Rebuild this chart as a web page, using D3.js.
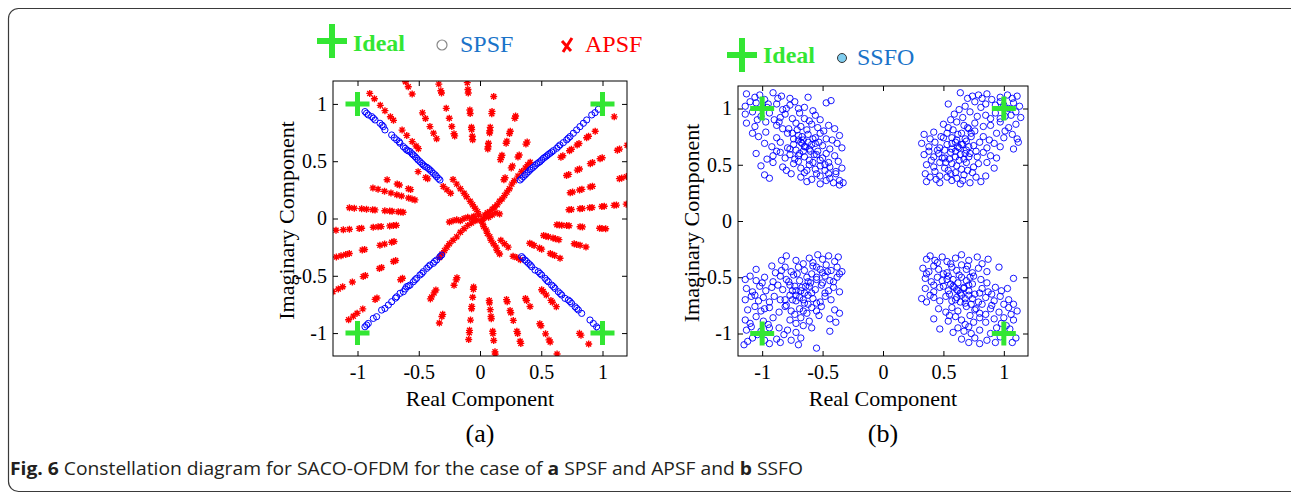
<!DOCTYPE html>
<html><head><meta charset="utf-8">
<script src="https://cdn.jsdelivr.net/npm/d3@7"></script>
<style>body{margin:0;background:#fff}svg{display:block}</style>
</head><body>
<svg id="c" width="1291" height="494"></svg>
<script>
// ---------- data ----------
const axisDomain = [-1.2, 1.2];
const tickValues = [-1, -0.5, 0, 0.5, 1];
const tickLabels = ["-1", "-0.5", "0", "0.5", "1"];
const idealPoints = [[-1, 1], [1, 1], [-1, -1], [1, -1]];

// SPSF (panel a) – four arms
const spsfUL = [[-0.939,0.933],[-0.926,0.918],[-0.912,0.904],[-0.884,0.889],[-0.870,0.875],[-0.857,0.860],[-0.816,0.831],[-0.800,0.815],[-0.789,0.802],[-0.776,0.773],[-0.721,0.729],[-0.700,0.705],[-0.680,0.686],[-0.660,0.670],[-0.653,0.657],[-0.626,0.627],[-0.610,0.612],[-0.598,0.598],[-0.585,0.590],[-0.571,0.584],[-0.555,0.565],[-0.544,0.554],[-0.530,0.540],[-0.517,0.525],[-0.505,0.510],[-0.490,0.496],[-0.475,0.480],[-0.463,0.467],[-0.450,0.455],[-0.435,0.447],[-0.420,0.435],[-0.408,0.423],[-0.395,0.410],[-0.381,0.394],[-0.365,0.380],[-0.354,0.365],[-0.340,0.350],[-0.327,0.336]];
const spsfUR = [[0.327,0.336],[0.340,0.350],[0.354,0.365],[0.368,0.380],[0.381,0.394],[0.395,0.408],[0.408,0.423],[0.420,0.435],[0.435,0.447],[0.450,0.462],[0.463,0.476],[0.476,0.486],[0.490,0.496],[0.503,0.510],[0.517,0.525],[0.530,0.535],[0.544,0.546],[0.557,0.558],[0.571,0.569],[0.585,0.580],[0.599,0.592],[0.626,0.613],[0.640,0.628],[0.653,0.642],[0.680,0.662],[0.707,0.686],[0.720,0.700],[0.735,0.715],[0.762,0.744],[0.789,0.773],[0.816,0.802],[0.844,0.831],[0.871,0.860],[0.912,0.904],[0.939,0.924],[0.966,0.953]];
const spsfLL = [[-0.939,-0.945],[-0.925,-0.930],[-0.912,-0.916],[-0.871,-0.872],[-0.844,-0.857],[-0.803,-0.799],[-0.776,-0.785],[-0.748,-0.755],[-0.721,-0.726],[-0.690,-0.695],[-0.680,-0.683],[-0.653,-0.653],[-0.626,-0.639],[-0.610,-0.615],[-0.599,-0.595],[-0.585,-0.590],[-0.571,-0.581],[-0.544,-0.552],[-0.530,-0.535],[-0.517,-0.522],[-0.490,-0.493],[-0.475,-0.480],[-0.463,-0.464],[-0.435,-0.435],[-0.420,-0.420],[-0.408,-0.406],[-0.381,-0.391],[-0.370,-0.375],[-0.354,-0.362],[-0.327,-0.333],[-0.313,-0.319]];
const spsfLR = [[0.340,-0.333],[0.350,-0.345],[0.367,-0.362],[0.380,-0.375],[0.395,-0.391],[0.410,-0.405],[0.422,-0.421],[0.449,-0.450],[0.476,-0.464],[0.490,-0.480],[0.503,-0.493],[0.531,-0.522],[0.545,-0.540],[0.558,-0.552],[0.585,-0.581],[0.600,-0.595],[0.612,-0.610],[0.639,-0.639],[0.655,-0.655],[0.667,-0.668],[0.694,-0.697],[0.721,-0.712],[0.735,-0.725],[0.748,-0.741],[0.776,-0.770],[0.790,-0.785],[0.803,-0.799],[0.830,-0.828],[0.898,-0.886],[0.925,-0.916],[0.952,-0.945],[0.966,-0.959]];

// APSF (panel a) – radial spokes read as [angle in degrees, radii of the marks]
const apsfSpokes = [
  [95, [0.69,0.72,0.78,0.80,0.92,0.95,1.10,1.13,1.19]],
  [84, [0.61,0.63,0.66,0.75,0.77,0.80,0.92,0.94,1.07]],
  [72, [0.54,0.56,0.58,0.69,0.71,0.78,0.80,0.92,0.94]],
  [60, [0.39,0.41,0.51,0.53,0.62,0.64,0.75,0.77]],
  [39, [0.85,0.87,0.94,0.96,1.02,1.04,1.12,1.14,1.21,1.41]],
  [28, [0.80,0.82,0.90,0.92,1.02,1.04,1.11,1.13,1.27,1.29,1.36]],
  [17, [0.77,0.79,0.85,0.87,0.94,0.96,1.19,1.21,1.25]],
  [6, [0.73,0.75,0.82,0.84,0.90,0.92,1.00,1.02,1.10,1.12,1.20]],
  [-5, [0.63,0.65,0.67,0.71,0.73,0.82,0.84,0.98,1.00,1.03]],
  [-16, [0.54,0.56,0.58,0.62,0.64,0.67,0.80,0.82,0.85,0.90]],
  [-28, [0.46,0.48,0.50,0.55,0.57,0.65,0.67,0.69,0.74]],
  [-51, [0.80,0.82,0.86,0.92,0.94,0.99,1.29,1.31,1.41]],
  [-62, [0.79,0.81,0.87,1.04,1.06,1.14,1.20,1.22,1.34]],
  [-73, [0.74,0.76,0.84,0.86,0.93,1.03,1.05,1.12,1.14]],
  [-84, [0.72,0.74,0.80,0.86,0.88,0.99,1.01,1.07,1.17,1.19]],
  [-95, [0.60,0.62,0.69,0.77,0.79,0.89,0.98,1.00,1.06]],
  [-110, [0.55,0.57,0.62,0.89,0.91,0.97]],
  [-120, [0.72,0.75,0.79,0.81]],
  [219.5, [0.82,0.84,1.09,1.11,1.24,1.30,1.34,1.39]],
  [208, [0.78,0.80,0.91,0.93,1.06,1.08,1.18,1.27,1.31,1.36]],
  [196, [0.73,0.75,0.81,0.85,0.98,1.00,1.11,1.14,1.18,1.22]],
  [185, [0.685,0.71,0.74,0.81,0.835,0.875,0.97,0.99,1.07,1.12,1.18]],
  [175, [0.63,0.65,0.67,0.72,0.74,0.78,0.86,0.88,0.93,0.97,1.03,1.07]],
  [163, [0.555,0.58,0.61,0.67,0.71,0.76,0.815,0.87,0.914]],
  [156, [0.62,0.64,0.72,0.74,0.83]],
  [141, [0.55,0.57,0.65]],
  [129.5, [0.79,0.82,0.87,0.94,1.00,1.11,1.15,1.22,1.28,1.355,1.415]],
  [117, [0.78,0.836,0.90,0.98,1.035,1.22,1.29,1.34]],
  [106, [0.75,0.77,0.835,0.91,1.00,1.14,1.16,1.22]]
];
// APSF central swirl marks
const apsfCentre = [[0.41,0.49],[0.39,0.47],[0.37,0.44],[0.34,0.41],[0.31,0.37],[0.28,0.33],[0.26,0.30],[0.24,0.26],[0.22,0.23],[0.20,0.20],[0.18,0.17],[0.16,0.15],[0.14,0.12],[0.12,0.10],[0.10,0.08],[0.08,0.06],[0.06,0.05],[0.04,0.03],[0.13,0.05],[0.16,0.04],[0.10,0.03],[0.07,0.01],[0.03,0.0],[0.01,-0.02],
  [-0.30,0.28],[-0.27,0.25],[-0.24,0.22],[-0.22,0.34],[-0.19,0.30],[-0.16,0.26],[-0.13,0.22],[-0.11,0.19],[-0.08,0.15],[-0.06,0.12],[-0.04,0.09],[-0.02,0.06],[-0.01,0.03],
  [-0.25,-0.03],[-0.22,-0.02],[-0.19,-0.01],[-0.16,-0.02],[-0.13,0.0],[-0.10,0.01],[-0.07,0.0],[-0.05,0.02],[-0.03,-0.01],
  [-0.33,-0.34],[-0.31,-0.31],[-0.29,-0.28],[-0.27,-0.25],[-0.25,-0.22],[-0.22,-0.19],[-0.19,-0.16],[-0.16,-0.12],[-0.13,-0.09],[-0.10,-0.06],[-0.07,-0.04],[-0.04,-0.02],
  [0.02,-0.04],[0.03,-0.07],[0.05,-0.10],[0.06,-0.13],[0.08,-0.16],[0.09,-0.19],[0.11,-0.22],[0.13,-0.25],[0.14,-0.28],[0.16,-0.31],[0.17,-0.19],[0.20,-0.22],[0.23,-0.25],[0.27,-0.33],[0.30,-0.34],[0.33,-0.36]];

// SSFO (panel b) – four clusters
const ssfoTL = [[-1.13,1.13],[-1.06,1.10],[-0.98,1.08],[-0.91,1.14],[-0.84,1.11],[-0.77,1.09],[-0.62,1.10],
  [-1.14,1.02],[-1.05,1.05],[-0.96,1.01],[-0.88,1.04],[-0.83,0.99],[-0.77,1.03],[-0.70,1.00],[-0.65,1.01],[-0.47,1.05],[-0.43,1.07],
  [-1.14,0.95],[-1.08,0.97],[-1.01,0.93],[-0.94,0.96],[-0.85,0.92],[-0.81,0.95],[-0.69,0.96],[-0.65,0.91],[-0.56,0.94],[-0.52,0.90],
  [-1.13,0.87],[-1.06,0.84],[-0.97,0.88],[-0.88,0.85],[-0.83,0.82],[-0.72,0.87],[-0.68,0.84],[-0.63,0.81],[-0.59,0.86],[-0.54,0.83],[-0.45,0.85],[-0.40,0.82],
  [-1.08,0.78],[-1.03,0.75],[-0.97,0.79],[-0.88,0.74],[-0.79,0.78],[-0.74,0.73],[-0.70,0.76],[-0.66,0.72],[-0.62,0.77],[-0.56,0.74],[-0.52,0.78],[-0.47,0.73],[-0.36,0.76],
  [-0.98,0.69],[-0.92,0.66],[-0.85,0.70],[-0.79,0.65],[-0.74,0.68],[-0.72,0.63],[-0.68,0.70],[-0.65,0.66],[-0.61,0.64],[-0.56,0.69],[-0.54,0.62],[-0.50,0.67],[-0.44,0.64],[-0.38,0.69],[-0.34,0.65],
  [-1.05,0.60],[-0.91,0.58],[-0.85,0.61],[-0.81,0.56],[-0.77,0.59],[-0.73,0.55],[-0.69,0.60],[-0.65,0.57],[-0.61,0.54],[-0.55,0.59],[-0.50,0.56],[-0.45,0.52],[-0.40,0.58],
  [-1.01,0.49],[-0.91,0.52],[-0.83,0.48],[-0.74,0.51],[-0.68,0.47],[-0.61,0.50],[-0.56,0.46],[-0.52,0.49],[-0.48,0.45],[-0.44,0.48],[-0.39,0.44],[-0.34,0.47],
  [-0.98,0.41],[-0.94,0.38],[-0.76,0.42],[-0.68,0.39],[-0.65,0.43],[-0.59,0.37],[-0.52,0.40],[-0.44,0.38],[-0.39,0.42],[-0.36,0.36],
  [-0.63,0.35],[-0.52,0.33],[-0.41,0.34],[-0.36,0.32],[-0.33,0.34],
  [-0.70,0.72],[-0.67,0.69],[-0.64,0.66],[-0.60,0.62],[-0.57,0.59],[-0.62,0.70],[-0.66,0.62],[-0.70,0.58],[-0.58,0.73],[-0.75,0.78],[-0.78,0.82],[-0.52,0.54],[-0.48,0.50],
  [-1.10,1.06],[-1.02,1.12],[-0.95,1.04],[-0.87,1.09],[-0.80,1.00],[-0.73,1.06],[-0.58,0.98],[-0.75,0.91],[-0.90,0.90],[-1.04,0.90],[-0.61,0.89],[-0.49,0.80],[-0.42,0.72],[-0.59,0.68],[-0.67,0.75],[-0.77,0.64],[-0.88,0.62],[-0.96,0.55],[-0.70,0.53],[-0.58,0.52],[-0.47,0.60],[-0.37,0.53],[-0.55,0.42],[-0.47,0.36],[-0.80,0.45],[-0.63,0.45],[-0.86,0.88],[-0.53,0.70],[-0.71,0.81],[-0.45,0.42]];
const ssfoTR = [[0.64,1.14],[0.74,1.11],[0.79,1.12],[0.82,1.09],[0.86,1.13],[0.97,1.10],[1.03,1.12],[1.07,1.09],[1.11,1.11],
  [0.54,1.04],[0.68,1.02],[0.76,1.06],[0.81,1.01],[0.85,1.04],[0.93,1.03],[0.97,1.06],[1.04,1.00],[1.08,1.05],[1.13,1.02],
  [0.59,0.95],[0.66,0.92],[0.72,0.97],[0.85,0.94],[0.89,0.91],[0.93,0.96],[1.01,0.93],[1.10,0.97],[1.14,0.92],
  [0.50,0.86],[0.54,0.83],[0.61,0.88],[0.67,0.85],[0.71,0.82],[0.76,0.87],[0.89,0.85],[0.97,0.88],[1.04,0.83],[1.10,0.86],
  [0.34,0.77],[0.42,0.79],[0.48,0.75],[0.53,0.78],[0.57,0.74],[0.62,0.77],[0.68,0.73],[0.73,0.78],[0.83,0.75],[0.94,0.78],[1.00,0.74],[1.07,0.77],[1.11,0.73],
  [0.32,0.69],[0.38,0.66],[0.43,0.70],[0.47,0.65],[0.53,0.68],[0.57,0.64],[0.60,0.70],[0.62,0.66],[0.65,0.68],[0.69,0.63],[0.75,0.67],[0.80,0.70],[0.86,0.65],[0.92,0.69],[0.97,0.66],[1.08,0.64],[1.12,0.70],
  [0.34,0.59],[0.38,0.62],[0.42,0.57],[0.46,0.60],[0.51,0.56],[0.56,0.61],[0.60,0.57],[0.64,0.59],[0.67,0.55],[0.72,0.60],[0.78,0.57],[0.83,0.61],[0.89,0.58],[0.94,0.56],
  [0.36,0.50],[0.42,0.48],[0.47,0.52],[0.51,0.47],[0.57,0.51],[0.61,0.49],[0.65,0.46],[0.69,0.52],[0.75,0.48],[0.79,0.51],[0.92,0.47],
  [0.35,0.42],[0.39,0.39],[0.43,0.44],[0.47,0.40],[0.56,0.42],[0.61,0.38],[0.67,0.41],[0.74,0.43],[0.85,0.40],
  [0.36,0.35],[0.47,0.34],[0.57,0.36],[0.64,0.33],[0.72,0.34],[0.81,0.35],
  [0.60,0.62],[0.63,0.65],[0.66,0.68],[0.69,0.71],[0.57,0.69],[0.61,0.72],[0.68,0.60],[0.71,0.57],[0.55,0.55],[0.52,0.52],[0.73,0.75],[0.76,0.80],[0.50,0.74],
  [0.70,1.09],[0.90,1.08],[1.00,1.03],[0.63,0.99],[0.78,0.93],[0.97,0.91],[1.06,0.94],[0.56,0.90],[0.83,0.84],[1.01,0.80],[0.39,0.73],[0.45,0.63],[0.51,0.63],[0.71,0.66],[0.77,0.62],[0.88,0.72],[0.40,0.54],[0.49,0.56],[0.54,0.45],[0.63,0.54],[0.70,0.45],[0.77,0.39],[0.44,0.37],[0.53,0.39],[0.60,0.43],[0.66,0.36],[0.86,0.52],[0.58,0.81],[0.65,0.78],[0.70,0.83]];
const ssfoBL = [[-0.84,-0.35],[-0.80,-0.31],[-0.61,-0.33],[-0.58,-0.37],[-0.54,-0.30],[-0.50,-0.34],[-0.45,-0.31],[-0.40,-0.36],[-0.37,-0.32],
  [-1.05,-0.43],[-0.92,-0.40],[-0.84,-0.44],[-0.81,-0.41],[-0.76,-0.45],[-0.70,-0.41],[-0.65,-0.44],[-0.58,-0.40],[-0.52,-0.43],[-0.47,-0.39],[-0.43,-0.44],[-0.38,-0.41],[-0.34,-0.45],
  [-1.14,-0.52],[-1.10,-0.49],[-1.05,-0.53],[-0.98,-0.50],[-0.91,-0.54],[-0.85,-0.49],[-0.80,-0.52],[-0.74,-0.48],[-0.69,-0.53],[-0.63,-0.50],[-0.59,-0.47],[-0.55,-0.52],[-0.48,-0.49],[-0.44,-0.53],[-0.38,-0.50],[-0.36,-0.47],
  [-1.13,-0.60],[-1.08,-0.63],[-1.02,-0.58],[-0.97,-0.62],[-0.92,-0.59],[-0.83,-0.61],[-0.77,-0.57],[-0.72,-0.62],[-0.67,-0.59],[-0.65,-0.64],[-0.61,-0.58],[-0.56,-0.61],[-0.51,-0.57],[-0.45,-0.62],[-0.41,-0.59],[-0.36,-0.63],
  [-1.14,-0.70],[-1.09,-0.67],[-1.03,-0.71],[-0.99,-0.68],[-0.94,-0.72],[-0.90,-0.67],[-0.81,-0.70],[-0.77,-0.66],[-0.72,-0.71],[-0.69,-0.68],[-0.65,-0.73],[-0.58,-0.69],[-0.52,-0.72],[-0.48,-0.67],[-0.43,-0.70],
  [-1.12,-0.79],[-1.06,-0.76],[-1.01,-0.80],[-0.94,-0.77],[-0.86,-0.81],[-0.81,-0.76],[-0.76,-0.80],[-0.69,-0.78],[-0.63,-0.82],[-0.59,-0.77],[-0.55,-0.80],[-0.51,-0.76],[-0.40,-0.79],[-0.36,-0.82],
  [-1.14,-0.88],[-1.05,-0.85],[-0.99,-0.89],[-0.91,-0.86],[-0.77,-0.88],[-0.72,-0.91],[-0.68,-0.86],[-0.61,-0.89],[-0.44,-0.87],[-0.39,-0.90],
  [-1.13,-0.97],[-1.09,-0.94],[-1.01,-0.98],[-0.94,-0.95],[-0.79,-0.97],[-0.72,-0.99],[-0.59,-0.95],[-0.44,-0.98],
  [-1.12,-1.07],[-1.08,-1.04],[-0.98,-1.06],[-0.94,-1.09],[-0.88,-1.05],[-0.85,-1.08],[-0.76,-1.06],[-0.70,-1.10],[-0.55,-1.13],
  [-0.72,-0.66],[-0.68,-0.62],[-0.64,-0.58],[-0.60,-0.55],[-0.75,-0.70],[-0.66,-0.70],[-0.62,-0.66],[-0.73,-0.58],[-0.78,-0.54],[-0.55,-0.50],[-0.80,-0.75],[-0.50,-0.46],
  [-0.72,-0.35],[-0.66,-0.38],[-0.55,-0.41],[-0.46,-0.45],[-0.89,-0.46],[-0.71,-0.47],[-0.62,-0.54],[-0.50,-0.55],[-0.41,-0.54],[-1.00,-0.55],[-0.87,-0.57],[-0.75,-0.62],[-0.59,-0.64],[-0.48,-0.64],[-1.06,-0.66],[-0.85,-0.70],[-0.62,-0.74],[-0.55,-0.73],[-0.98,-0.78],[-0.73,-0.83],[-0.66,-0.80],[-0.53,-0.84],[-1.10,-0.91],[-0.95,-0.92],[-0.86,-0.95],[-0.66,-0.93],[-1.04,-1.01],[-0.82,-1.01],[-0.68,-1.04],[-1.15,-1.10]];
const ssfoBR = [[0.36,-0.34],[0.39,-0.31],[0.43,-0.35],[0.49,-0.32],[0.53,-0.36],[0.60,-0.33],[0.65,-0.30],[0.71,-0.35],[0.78,-0.32],[0.87,-0.34],
  [0.33,-0.42],[0.38,-0.45],[0.42,-0.40],[0.46,-0.43],[0.53,-0.46],[0.57,-0.41],[0.61,-0.44],[0.65,-0.39],[0.69,-0.43],[0.74,-0.46],[0.79,-0.42],[0.86,-0.45],[0.96,-0.41],
  [0.35,-0.51],[0.40,-0.54],[0.45,-0.50],[0.49,-0.53],[0.54,-0.49],[0.58,-0.52],[0.62,-0.55],[0.65,-0.50],[0.69,-0.53],[0.75,-0.49],[0.81,-0.52],[0.86,-0.55],[1.08,-0.51],
  [0.35,-0.60],[0.42,-0.63],[0.47,-0.59],[0.54,-0.62],[0.58,-0.58],[0.61,-0.61],[0.64,-0.64],[0.67,-0.59],[0.71,-0.62],[0.76,-0.65],[0.82,-0.60],[0.87,-0.63],[0.93,-0.59],[0.98,-0.62],[1.03,-0.60],
  [0.32,-0.69],[0.36,-0.72],[0.42,-0.68],[0.47,-0.71],[0.52,-0.67],[0.60,-0.70],[0.68,-0.73],[0.74,-0.69],[0.79,-0.72],[0.85,-0.68],[0.92,-0.71],[0.97,-0.67],[1.04,-0.70],[1.08,-0.74],
  [0.46,-0.78],[0.52,-0.81],[0.57,-0.77],[0.62,-0.80],[0.69,-0.76],[0.76,-0.79],[0.80,-0.82],[0.89,-0.78],[0.96,-0.81],[1.04,-0.77],[1.11,-0.80],
  [0.42,-0.87],[0.54,-0.89],[0.60,-0.85],[0.65,-0.88],[0.68,-0.92],[0.80,-0.86],[0.85,-0.90],[0.92,-0.87],[0.98,-0.91],[1.08,-0.88],
  [0.47,-0.96],[0.58,-0.99],[0.62,-0.95],[0.67,-0.98],[0.71,-0.94],[0.80,-0.97],[0.89,-1.00],[1.05,-0.96],
  [0.65,-1.05],[0.71,-1.08],[0.76,-1.04],[0.80,-1.09],[0.86,-1.06],[0.97,-1.03],[1.07,-1.08],[1.10,-1.04],
  [0.62,-0.62],[0.65,-0.66],[0.68,-0.69],[0.59,-0.59],[0.56,-0.56],[0.61,-0.68],[0.67,-0.60],[0.71,-0.57],[0.57,-0.71],[0.73,-0.74],[0.77,-0.78],[0.53,-0.52],
  [0.45,-0.37],[0.56,-0.38],[0.70,-0.40],[0.82,-0.38],[0.36,-0.47],[0.50,-0.47],[0.63,-0.48],[0.72,-0.50],[0.42,-0.57],[0.50,-0.58],[0.74,-0.56],[0.80,-0.64],[0.90,-0.65],[0.39,-0.66],[0.55,-0.65],[0.64,-0.72],[0.71,-0.66],[0.82,-0.74],[0.90,-0.75],[1.00,-0.74],[0.55,-0.84],[0.72,-0.84],[0.85,-0.83],[1.00,-0.86],[1.06,-0.83],[0.75,-0.90],[0.94,-0.95],[1.02,-0.93],[0.73,-1.00],[0.93,-1.08]];

const legendA = ["Ideal", "SPSF", "APSF"];
const legendB = ["Ideal", "SSFO"];
const xTitle = "Real Component";
const yTitle = "Imaginary Component";
const panelLabels = ["(a)", "(b)"];

// ---------- drawing ----------
const svg = d3.select("#c");
const SERIF = "'Liberation Serif','Times New Roman',serif";
const GREEN = "#33e633", BLUE = "#0000ff", RED = "#ff0000";

// outer frame
svg.append("rect").attr("x", 8.5).attr("y", 8.5).attr("width", 1300).attr("height", 483)
  .attr("rx", 10).attr("fill", "none").attr("stroke", "#3a3a3a").attr("stroke-width", 1.2);

function makePanel(id, box) {
  const x = d3.scaleLinear().domain(axisDomain).range([box.x0, box.x1]);
  const y = d3.scaleLinear().domain(axisDomain).range([box.y1, box.y0]);
  const g = svg.append("g");
  svg.append("clipPath").attr("id", "clip" + id).append("rect")
    .attr("x", box.x0).attr("y", box.y0).attr("width", box.x1 - box.x0).attr("height", box.y1 - box.y0);
  const fmt = (d) => tickLabels[tickValues.indexOf(d)];
  const style = (sel) => {
    sel.select(".domain").remove();
    sel.selectAll(".tick line").attr("stroke", "#000");
    sel.selectAll("text").attr("font-family", SERIF).attr("font-size", 20).attr("fill", "#000");
  };
  g.append("g").attr("transform", `translate(0,${box.y1})`)
    .call(d3.axisBottom(x).tickValues(tickValues).tickFormat(fmt).tickSizeInner(-5).tickSizeOuter(0).tickPadding(9)).call(style);
  g.append("g").attr("transform", `translate(0,${box.y0})`)
    .call(d3.axisTop(x).tickValues(tickValues).tickFormat("").tickSizeInner(-5).tickSizeOuter(0)).call(style);
  g.append("g").attr("transform", `translate(${box.x0},0)`)
    .call(d3.axisLeft(y).tickValues(tickValues).tickFormat(fmt).tickSizeInner(-5).tickSizeOuter(0).tickPadding(6)).call(style);
  g.append("g").attr("transform", `translate(${box.x1},0)`)
    .call(d3.axisRight(y).tickValues(tickValues).tickFormat("").tickSizeInner(-5).tickSizeOuter(0)).call(style);
  const plot = g.append("g").attr("clip-path", `url(#clip${id})`);
  g.append("rect").attr("x", box.x0).attr("y", box.y0).attr("width", box.x1 - box.x0).attr("height", box.y1 - box.y0)
    .attr("fill", "none").attr("stroke", "#000").attr("stroke-width", 1);
  g.append("text").attr("x", x(0)).attr("y", box.y1 + 50).attr("text-anchor", "middle")
    .attr("font-family", SERIF).attr("font-size", 22).text(xTitle);
  g.append("text").attr("transform", `translate(${box.x0 - 39},${y(0) + 2}) rotate(-90)`).attr("text-anchor", "middle")
    .attr("font-family", SERIF).attr("font-size", 22).text(yTitle);
  g.append("text").attr("x", x(0)).attr("y", 442).attr("text-anchor", "middle")
    .attr("font-family", SERIF).attr("font-size", 26).text(panelLabels[id]);
  return {x, y, plot};
}

const plusPath = (w, h) => `M${-w},0H${w}M0,${-h}V${h}`;

// Panel (a)
const A = makePanel(0, {x0: 333, x1: 627, y0: 81, y1: 356});
const apsfPts = apsfSpokes.flatMap(([a, rs]) => rs.map(r => [r * Math.cos(a * Math.PI / 180), r * Math.sin(a * Math.PI / 180)])).concat(apsfCentre);
A.plot.selectAll("path.apsf").data(apsfPts).join("path").attr("class", "apsf")
  .attr("transform", d => `translate(${A.x(d[0])},${A.y(d[1])})`)
  .attr("d", "M-3.5,0H3.5M0,-3.5V3.5M-2.5,-2.5L2.5,2.5M-2.5,2.5L2.5,-2.5")
  .attr("stroke", RED).attr("stroke-width", 1.4).attr("fill", "none");
A.plot.selectAll("circle.spsf").data([...spsfUL, ...spsfUR, ...spsfLL, ...spsfLR]).join("circle").attr("class", "spsf")
  .attr("cx", d => A.x(d[0])).attr("cy", d => A.y(d[1])).attr("r", 3.1)
  .attr("fill", "none").attr("stroke", BLUE).attr("stroke-width", 1);
A.plot.selectAll("path.ideal").data(idealPoints).join("path").attr("class", "ideal")
  .attr("transform", d => `translate(${A.x(d[0])},${A.y(d[1])})`)
  .attr("d", plusPath(12, 12)).attr("stroke", GREEN).attr("stroke-width", 5).attr("fill", "none");

// Panel (b)
const B = makePanel(1, {x0: 738, x1: 1028, y0: 86, y1: 356});
B.plot.selectAll("circle.ssfo").data([...ssfoTL, ...ssfoTR, ...ssfoBL, ...ssfoBR]).join("circle").attr("class", "ssfo")
  .attr("cx", d => B.x(d[0])).attr("cy", d => B.y(d[1])).attr("r", 3.2)
  .attr("fill", "none").attr("stroke", BLUE).attr("stroke-width", 0.9);
B.plot.selectAll("path.ideal").data(idealPoints).join("path").attr("class", "ideal")
  .attr("transform", d => `translate(${B.x(d[0])},${B.y(d[1])})`)
  .attr("d", plusPath(12, 12)).attr("stroke", GREEN).attr("stroke-width", 5).attr("fill", "none");

// Legend (a)
const la = svg.append("g");
la.append("path").attr("transform", "translate(332,41)").attr("d", plusPath(15, 17)).attr("stroke", GREEN).attr("stroke-width", 6);
la.append("text").attr("x", 353).attr("y", 51).attr("font-family", SERIF).attr("font-weight", "bold").attr("font-size", 24).attr("fill", GREEN).text(legendA[0]);
la.append("circle").attr("cx", 442).attr("cy", 45).attr("r", 5).attr("fill", "none").attr("stroke", "#888").attr("stroke-width", 1.2);
la.append("text").attr("x", 460).attr("y", 52).attr("font-family", SERIF).attr("font-size", 24).attr("fill", "#1a73c9").text(legendA[1]);
la.append("path").attr("transform", "translate(567,45)").attr("d", "M-5,-4L4,6M5,-7L-4,7").attr("stroke", RED).attr("stroke-width", 3).attr("fill", "none");
la.append("text").attr("x", 585).attr("y", 52).attr("font-family", SERIF).attr("font-size", 24).attr("fill", RED).text(legendA[2]);

// Legend (b)
const lb = svg.append("g");
lb.append("path").attr("transform", "translate(742,55)").attr("d", plusPath(15, 17)).attr("stroke", GREEN).attr("stroke-width", 6);
lb.append("text").attr("x", 763).attr("y", 63).attr("font-family", SERIF).attr("font-weight", "bold").attr("font-size", 24).attr("fill", GREEN).text(legendB[0]);
lb.append("circle").attr("cx", 842).attr("cy", 58).attr("r", 4.5).attr("fill", "#7fcdef").attr("stroke", "#333").attr("stroke-width", 1);
lb.append("text").attr("x", 857).attr("y", 65).attr("font-family", SERIF).attr("font-size", 24).attr("fill", "#1a73c9").text(legendB[1]);

// Caption
const cap = svg.append("text").attr("x", 10).attr("y", 475).attr("font-family", "'Open Sans','Liberation Sans',sans-serif")
  .attr("font-size", 18).attr("fill", "#231f20").attr("textLength", 793).attr("lengthAdjust", "spacingAndGlyphs");
cap.append("tspan").attr("font-weight", "bold").text("Fig. 6");
cap.append("tspan").text(" Constellation diagram for SACO-OFDM for the case of ");
cap.append("tspan").attr("font-weight", "bold").text("a");
cap.append("tspan").text(" SPSF and APSF and ");
cap.append("tspan").attr("font-weight", "bold").text("b");
cap.append("tspan").text(" SSFO");
</script>
</body></html>
